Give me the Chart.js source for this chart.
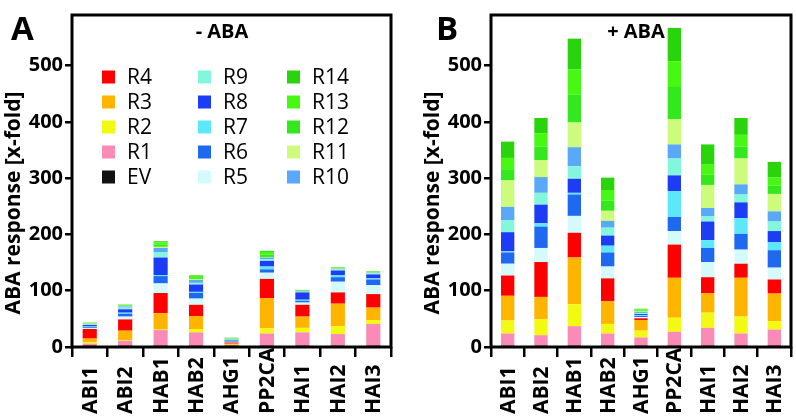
<!DOCTYPE html>
<html>
<head>
<meta charset="utf-8">
<script src="https://cdn.jsdelivr.net/npm/chart.js@4/dist/chart.umd.min.js"></script>
<style>
  body { margin: 0; background: #fff; width: 796px; height: 416px; overflow: hidden; position: relative; }
  #wa { position: absolute; left: 0; top: 0; width: 400px; height: 416px; }
  #wb { position: absolute; left: 400px; top: 0; width: 396px; height: 416px; }
</style>
</head>
<body>
<div id="wa"><canvas id="chartA"></canvas></div>
<div id="wb"><canvas id="chartB"></canvas></div>
<script>
const categories = ["ABI1", "ABI2", "HAB1", "HAB2", "AHG1", "PP2CA", "HAI1", "HAI2", "HAI3"];
const seriesNames = ["EV", "R1", "R2", "R3", "R4", "R5", "R6", "R7", "R8", "R9", "R10", "R11", "R12", "R13", "R14"];
const seriesColors = ["#111111", "#f98bb6", "#f2fa12", "#ffb400", "#ff0000", "#d5fafc", "#1f68f0",
  "#5ce8fa", "#1d3cf5", "#82f7dc", "#5aa8f8", "#cdfc7d", "#33e81c", "#47f912", "#2ad40c"];
const yTicks = [0, 100, 200, 300, 400, 500];
const yTitle = "ABA response [x-fold]";

// - ABA
const EV_minus  = [1, 1, 1, 1, 1, 1, 1, 1, 1];
const R1_minus  = [5, 10, 29, 25, 2, 23, 25, 22, 40];
const R2_minus  = [2, 1, 1, 6, 1, 9, 8, 14, 7];
const R3_minus  = [7, 17, 29, 23, 2, 54, 20, 40, 22];
const R4_minus  = [17, 20, 36, 20, 2, 34, 21, 20, 24];
const R5_minus  = [2, 5, 17, 11, 1, 11, 4, 19, 16];
const R6_minus  = [2, 5, 13, 10, 1, 6, 3, 8, 10];
const R7_minus  = [1, 2, 2, 2, 1, 5, 2, 4, 2];
const R8_minus  = [2, 6, 31, 13, 1, 10, 13, 8, 7];
const R9_minus  = [1, 3, 9, 3, 1, 3, 1, 2, 2];
const R10_minus = [1, 2, 8, 5, 1, 3, 1, 1, 1];
const R11_minus = [0.5, 1, 2, 2, 0.5, 1, 0.5, 0.5, 0.5];
const R12_minus = [0.5, 1, 4, 3, 0.5, 4, 1, 1, 1];
const R13_minus = [1, 1, 4, 3, 1, 5, 0.5, 1, 1];
const R14_minus = [0.5, 0.5, 2, 1, 0.5, 2, 0.5, 0.5, 0.5];

// + ABA
const EV_plus  = [1, 1, 1, 1, 1, 1, 1, 1, 1];
const R1_plus  = [23, 20, 36, 23, 16, 26, 33, 23, 30];
const R2_plus  = [23, 28, 39, 17, 12, 25, 27, 30, 15];
const R3_plus  = [44, 40, 83, 40, 19, 71, 35, 69, 49];
const R4_plus  = [36, 62, 44, 41, 3, 59, 28, 25, 25];
const R5_plus  = [21, 25, 30, 21, 2, 24, 27, 25, 21];
const R6_plus  = [20, 38, 38, 25, 2, 25, 25, 28, 31];
const R7_plus  = [2, 6, 3, 12, 1.5, 46, 14, 28, 14];
const R8_plus  = [34, 33, 25, 18, 2, 28, 33, 28, 20];
const R9_plus  = [21, 21, 22, 14, 1.5, 30, 9, 14, 17];
const R10_plus = [24, 28, 34, 12, 2, 25, 15, 18, 18];
const R11_plus = [47, 30, 44, 18, 1, 45, 41, 46, 31];
const R12_plus = [20, 24, 50, 18, 2, 57, 18, 21, 15];
const R13_plus = [20, 24, 44, 19, 2, 46, 18, 21, 14];
const R14_plus = [29, 27, 55, 22, 1, 59, 36, 30, 28];

const minusSeries = [EV_minus, R1_minus, R2_minus, R3_minus, R4_minus, R5_minus, R6_minus, R7_minus,
  R8_minus, R9_minus, R10_minus, R11_minus, R12_minus, R13_minus, R14_minus];
const plusSeries = [EV_plus, R1_plus, R2_plus, R3_plus, R4_plus, R5_plus, R6_plus, R7_plus,
  R8_plus, R9_plus, R10_plus, R11_plus, R12_plus, R13_plus, R14_plus];

const FONT = "'Open Sans', 'DejaVu Sans', sans-serif";

// frame, rotated labels, panel letter, title and (panel A) legend
const panelPlugin = {
  id: "panel",
  afterDraw(chart, args, o) {
    const ctx = chart.ctx, a = chart.chartArea, xs = chart.scales.x;
    ctx.save();
    ctx.strokeStyle = "#000";
    ctx.lineWidth = 3;
    ctx.strokeRect(a.left, a.top, a.right - a.left, a.bottom - a.top);

    ctx.fillStyle = "#000";
    ctx.font = "bold 21px " + FONT;
    ctx.textAlign = "left";
    ctx.textBaseline = "middle";
    categories.forEach((c, i) => {
      ctx.save();
      ctx.translate(xs.getPixelForValue(i) + 1, 414);
      ctx.rotate(-Math.PI / 2);
      ctx.fillText(c, 0, 0);
      ctx.restore();
    });

    // y axis title
    ctx.save();
    ctx.translate(o.yTitleX, 203);
    ctx.rotate(-Math.PI / 2);
    ctx.textAlign = "center";
    ctx.fillText(yTitle, 0, 0);
    ctx.restore();

    ctx.font = "bold 33px " + FONT;
    ctx.textAlign = "left";
    ctx.textBaseline = "alphabetic";
    ctx.fillText(o.letter, o.letterX, 40);

    ctx.font = "bold 20px " + FONT;
    ctx.textAlign = "center";
    ctx.textBaseline = "middle";
    ctx.fillText(o.title, o.titleX, 32);

    if (o.legend) {
      const colX = [102, 198, 287];
      ctx.font = "21px " + FONT;
      ctx.textAlign = "left";
      for (let c = 0; c < 3; c++) {
        for (let r = 0; r < 5; r++) {
          const k = 5 * c + 4 - r;
          const cy = 77 + 25 * r;
          ctx.fillStyle = seriesColors[k];
          ctx.fillRect(colX[c], cy - 6.5, 13, 13);
          ctx.fillStyle = "#000";
          ctx.fillText(seriesNames[k], colX[c] + 25, cy + 1);
        }
      }
    }
    ctx.restore();
  }
};

function makeChart(id, series, yWidth, pad, panel) {
  return new Chart(document.getElementById(id), {
    type: "bar",
    data: {
      labels: categories,
      datasets: series.map((d, i) => ({
        label: seriesNames[i],
        data: d,
        backgroundColor: seriesColors[i],
        borderWidth: 0,
        barPercentage: 0.4,
        categoryPercentage: 1
      }))
    },
    options: {
      responsive: true,
      maintainAspectRatio: false,
      animation: false,
      layout: { padding: pad },
      plugins: { legend: { display: false }, tooltip: { enabled: false }, panel: panel },
      scales: {
        x: {
          stacked: true,
          afterFit: s => { s.height = 69; },
          ticks: { display: false },
          grid: { drawOnChartArea: false, offset: true, tickLength: 10, color: "#000", lineWidth: 2.5 },
          border: { display: false }
        },
        y: {
          stacked: true,
          min: 0,
          max: 590,
          afterBuildTicks: s => { s.ticks = yTicks.map(v => ({ value: v })); },
          afterFit: s => { s.width = yWidth; },
          ticks: {
            autoSkip: false,
            color: "#000",
            padding: 2,
            font: { family: FONT, weight: "bold", size: 20 }
          },
          grid: { drawOnChartArea: false, tickLength: 7, color: "#000", lineWidth: 2.5 },
          border: { display: false }
        }
      }
    },
    plugins: [panelPlugin]
  });
}

makeChart("chartA", minusSeries, 72, { left: 0, right: 9, top: 15, bottom: 0 },
  { letter: "A", letterX: 11, title: "- ABA", titleX: 222, yTitleX: 14, legend: true });
makeChart("chartB", plusSeries, 91, { left: 0, right: 5, top: 15, bottom: 0 },
  { letter: "B", letterX: 36, title: "+ ABA", titleX: 236, yTitleX: 33, legend: false });
</script>
</body>
</html>
